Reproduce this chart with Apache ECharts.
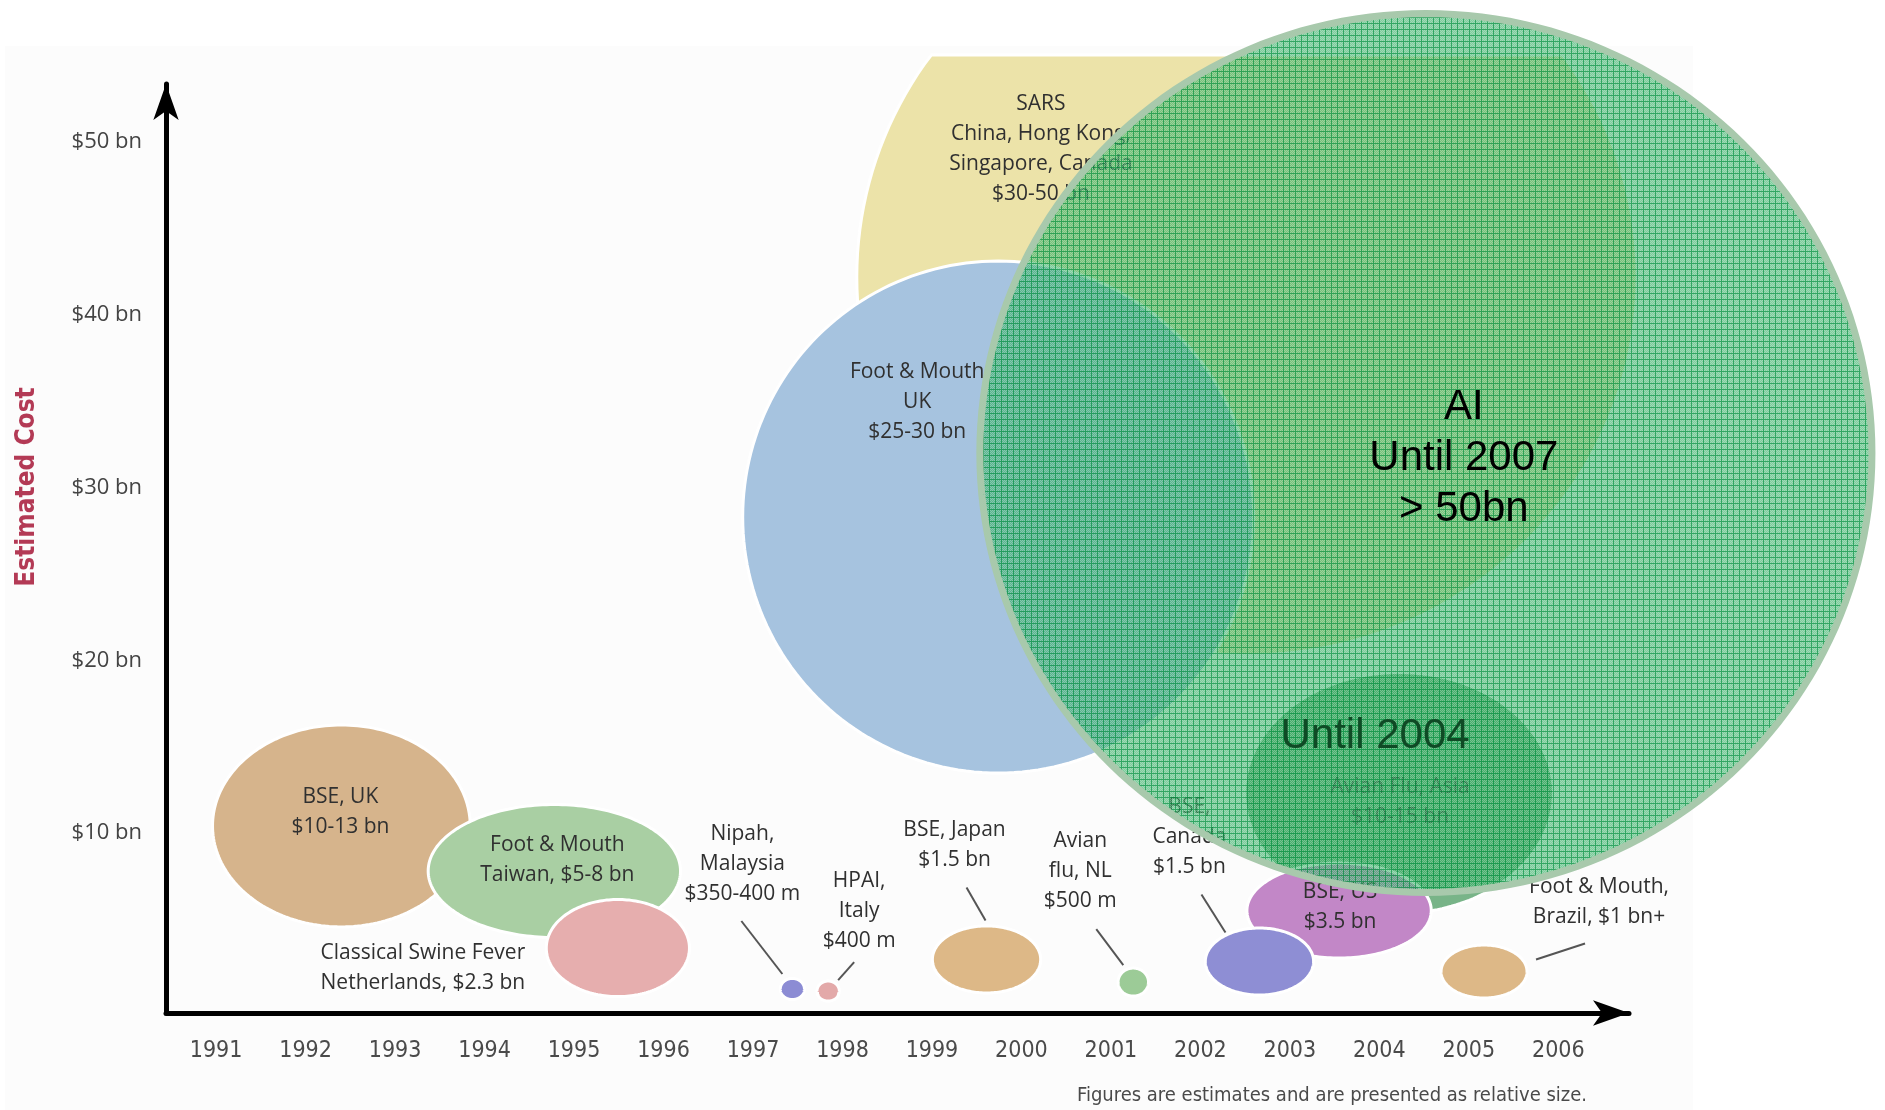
<!DOCTYPE html>
<html>
<head>
<meta charset="utf-8">
<title>Estimated cost of animal disease outbreaks</title>
<script src="https://cdn.jsdelivr.net/npm/echarts@6/dist/echarts.min.js"></script>
<style>
  html, body { margin: 0; padding: 0; background: #ffffff; }
  #chart { width: 1885px; height: 1110px; }
</style>
</head>
<body>
<div id="chart"></div>
<script>
// ---- axis ticks ----
const yearTicks = [1991, 1992, 1993, 1994, 1995, 1996, 1997, 1998, 1999, 2000, 2001, 2002, 2003, 2004, 2005, 2006];
const costTicks = [10, 20, 30, 40, 50];

// ---- outbreaks: label, centre (year, $bn) and extent (years, $bn) ----
const outbreakLabels = [
  'SARS\nChina, Hong Kong,\nSingapore, Canada\n$30-50 bn',
  'Foot & Mouth\nUK\n$25-30 bn',
  'BSE, UK\n$10-13 bn',
  'Foot & Mouth\nTaiwan, $5-8 bn',
  'Classical Swine Fever\nNetherlands, $2.3 bn',
  'Nipah,\nMalaysia\n$350-400 m',
  'HPAI,\nItaly\n$400 m',
  'BSE, Japan\n$1.5 bn',
  'Avian\nflu, NL\n$500 m',
  'Avian Flu, Asia\n$10-15 bn',
  'BSE, US\n$3.5 bn',
  'BSE,\nCanada\n$1.5 bn',
  'Foot & Mouth,\nBrazil, $1 bn+'
];
const outbreakYear      = [2002.52, 1999.74, 1992.40, 1994.78, 1995.49, 1997.44, 1997.84, 1999.61, 2001.25, 2004.22, 2003.55, 2002.66, 2005.17];
const outbreakCost      = [42.19, 28.29, 10.41, 7.80, 3.34, 0.97, 0.85, 2.68, 1.37, 12.32, 5.51, 2.56, 1.98];
const outbreakSpanYears = [8.72, 5.71, 2.88, 2.82, 1.60, 0.27, 0.25, 1.21, 0.34, 3.45, 2.06, 1.21, 0.96];
const outbreakSpanCost  = [43.8, 29.64, 11.69, 7.70, 5.62, 1.22, 1.16, 3.88, 1.62, 13.95, 5.50, 3.88, 3.07];

// ---- avian influenza overlay ----
const overlayLabels    = ['AI\nUntil 2007\n> 50bn'];
const overlayYear      = [2004.52];
const overlayCost      = [32.0];
const overlaySpanYears = [9.97];
const overlaySpanCost  = [50.88];
const asiaNote = 'Until 2004';

// ---- styling / layout (pixels) ----
const bubbleFill = ['#ECE3A9', '#A6C3DF', '#D6B48C', '#A9CFA3', '#E6AEAE', '#8C8CD4', '#E3A9A9',
                    '#DDB887', '#9CCB97', '#78B488', '#C287C7', '#8E8ED4', '#DDB887'];
const labelOffset = [[-206, -128], [-81, -115], [-1, -14], [3, -11], [-195, 20], [-50, -125], [31, -80],
                     [-32, -114], [-53, -111], [1, 9], [1, -4], [-70, -125], [115, -70]];
const leaderOffset = [null, null, null, null, null, [-51, -68, -10, -15], [26, -29, 10, -11],
                      [-20, -72, -1, -39], [-37, -53, -10, -17], null, null, [-58, -67, -34, -29], [101, -28, 52, -12]];
const PANEL_TOP = 55;
const LABEL_FONT = '"Open Sans", "DejaVu Sans", sans-serif';
const NARROW_FONT = '"Liberation Sans Narrow", "DejaVu Sans Condensed", sans-serif';

// axis extents chosen so that the tick grid lands where the drawing needs it
const X_MIN = 1990.44, X_MAX = 2006.79;
const Y_MIN = -0.42, Y_MAX = 53.36;

function ellipsePoints(cx, cy, rx, ry, topLimit) {
  const pts = [];
  const n = 200;
  for (let i = 0; i < n; i++) {
    const t = (i / n) * Math.PI * 2;
    let y = cy + ry * Math.sin(t);
    if (topLimit != null) y = Math.max(topLimit, y);
    pts.push([cx + rx * Math.cos(t), y]);
  }
  return pts;
}

function gridPattern() {
  const c = document.createElement('canvas');
  c.width = 6; c.height = 6;
  const g = c.getContext('2d');
  g.fillStyle = 'rgba(40,172,92,0.6)';
  g.fillRect(0, 0, 6, 6);
  g.fillStyle = 'rgba(255,255,255,0.25)';
  for (let y = 0; y < 5; y++) for (let x = 0; x < 5; x++) if ((x + y) % 2 === 0) g.fillRect(x, y, 1, 1);
  g.fillStyle = 'rgba(0,140,60,0.6)';
  g.fillRect(5, 0, 1, 6);
  g.fillRect(0, 5, 5, 1);
  return c;
}

function textStyle(text, x, y, size, family, fill, lineHeight, weight) {
  return {
    text: text, x: x, y: y, fill: fill,
    fontSize: size, fontFamily: family, fontWeight: weight || 'normal',
    align: 'center', verticalAlign: 'middle',
    textAlign: 'center', textVerticalAlign: 'middle',
    lineHeight: lineHeight
  };
}

const outbreakData = outbreakYear.map((y, i) => [y, outbreakCost[i], outbreakSpanYears[i], outbreakSpanCost[i], i]);
const overlayData = overlayYear.map((y, i) => [y, overlayCost[i], overlaySpanYears[i], overlaySpanCost[i], i]);

const chart = echarts.init(document.getElementById('chart'), null, { renderer: 'canvas' });

chart.setOption({
  animation: false,
  backgroundColor: '#ffffff',
  grid: { left: 166, right: 256, top: 84, bottom: 97 },
  graphic: [
    { type: 'rect', z: -10, shape: { x: 5, y: 46, width: 1688, height: 1064 }, style: { fill: '#FCFCFC' } },
    { type: 'text', x: 27, y: 487, rotation: Math.PI / 2,
      style: textStyle('Estimated Cost', 0, 0, 26, NARROW_FONT, '#B33A55', 30, 'bold') },
    { type: 'text', x: 1332, y: 1096,
      style: textStyle('Figures are estimates and are presented as relative size.', 0, 0, 20,
                       '"DejaVu Sans Condensed", "Liberation Sans Narrow", sans-serif', '#4a4a4a', 22) }
  ],
  xAxis: {
    type: 'value', min: X_MIN, max: X_MAX,
    axisLine: { show: true, onZero: false, symbol: ['none', 'arrow'], symbolSize: [19, 36],
                lineStyle: { color: '#000', width: 5 } },
    axisTick: { show: false },
    splitLine: { show: false },
    axisLabel: { customValues: yearTicks, formatter: v => String(v), margin: 27,
                 fontFamily: NARROW_FONT, fontSize: 23, color: '#4a4a4a' }
  },
  yAxis: {
    type: 'value', min: Y_MIN, max: Y_MAX,
    axisLine: { show: true, onZero: false, symbol: ['none', 'arrow'], symbolSize: [19, 36],
                lineStyle: { color: '#000', width: 5 } },
    axisTick: { show: false },
    splitLine: { show: false },
    axisLabel: { customValues: costTicks, formatter: v => '$' + v + ' bn', margin: 24,
                 fontFamily: LABEL_FONT, fontSize: 22, color: '#444' }
  },
  series: [
    {
      // outbreak bubbles
      type: 'custom', name: 'outbreaks', z: 2, clip: false,
      data: outbreakData,
      renderItem: function (params, api) {
        const c = api.coord([api.value(0), api.value(1)]);
        const s = api.size([api.value(2), api.value(3)]);
        const i = api.value(4);
        return {
          type: 'polygon',
          shape: { points: ellipsePoints(c[0], c[1], s[0] / 2, s[1] / 2, PANEL_TOP) },
          style: { fill: bubbleFill[i], stroke: '#ffffff', lineWidth: 3 }
        };
      }
    },
    {
      // outbreak labels and leader lines
      type: 'custom', name: 'outbreakLabels', z: 3, clip: false,
      data: outbreakData,
      renderItem: function (params, api) {
        const c = api.coord([api.value(0), api.value(1)]);
        const i = api.value(4);
        const off = labelOffset[i];
        const children = [{
          type: 'text',
          style: textStyle(outbreakLabels[i], c[0] + off[0], c[1] + off[1], 21, LABEL_FONT, '#303030', 30)
        }];
        const ld = leaderOffset[i];
        if (ld) {
          children.push({
            type: 'line',
            shape: { x1: c[0] + ld[0], y1: c[1] + ld[1], x2: c[0] + ld[2], y2: c[1] + ld[3] },
            style: { stroke: '#555', lineWidth: 2 }
          });
        }
        return { type: 'group', children: children };
      }
    },
    {
      // avian influenza overlay
      type: 'custom', name: 'AI', z: 4, clip: false,
      data: overlayData,
      renderItem: function (params, api) {
        const c = api.coord([api.value(0), api.value(1)]);
        const s = api.size([api.value(2), api.value(3)]);
        return {
          type: 'polygon',
          shape: { points: ellipsePoints(c[0], c[1], s[0] / 2, s[1] / 2, null) },
          style: { fill: { image: gridPattern(), repeat: 'repeat' }, stroke: '#A8C9AC', lineWidth: 7 }
        };
      }
    },
    {
      // overlay text
      type: 'custom', name: 'AIlabels', z: 5, clip: false,
      data: overlayData,
      renderItem: function (params, api) {
        const c = api.coord([api.value(0), api.value(1)]);
        const asia = api.coord([outbreakYear[9], outbreakCost[9]]);
        return {
          type: 'group',
          children: [
            { type: 'text', style: textStyle(overlayLabels[api.value(4)], c[0] + 38, c[1] + 5, 42,
                                             '"Liberation Sans", Arial, sans-serif', '#000', 51) },
            { type: 'text', style: textStyle(asiaNote, asia[0] - 24, asia[1] - 57, 42,
                                             '"Liberation Sans", Arial, sans-serif', '#0F4A25', 51) }
          ]
        };
      }
    }
  ]
});
</script>
</body>
</html>
